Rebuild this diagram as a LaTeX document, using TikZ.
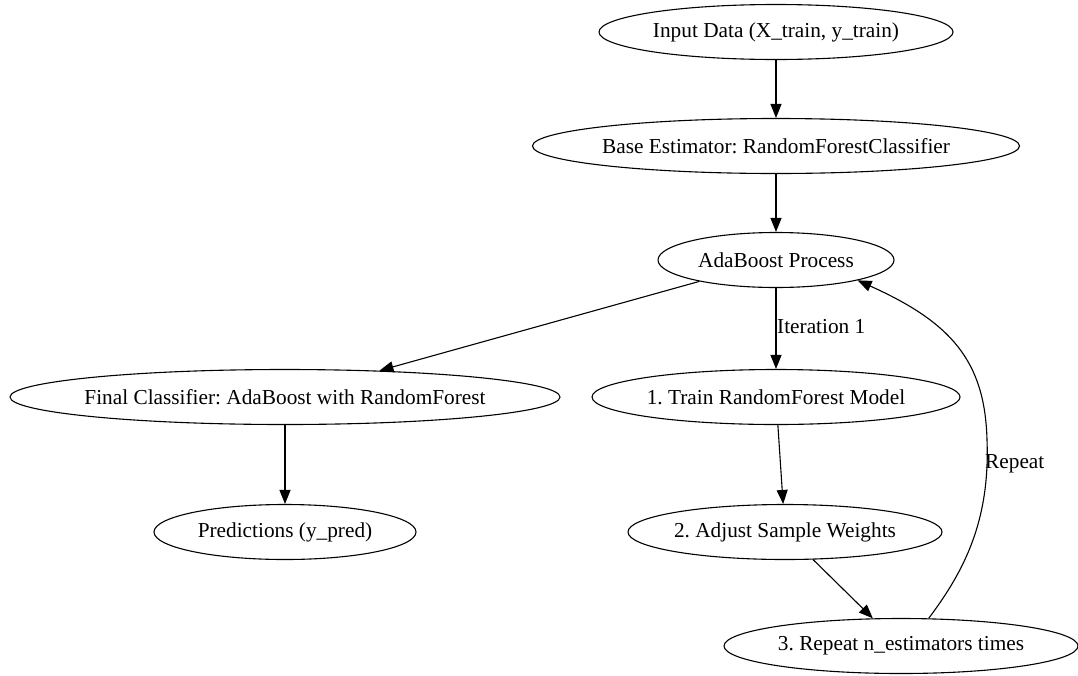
\documentclass[tikz,border=0pt]{standalone}
\usepackage{fontspec}
\setmainfont{Liberation Serif}
\usetikzlibrary{arrows.meta,shapes.geometric}
\newcommand{\ztext}[1]{\makebox[0pt][c]{#1}}
\begin{document}
\frenchspacing
\begin{tikzpicture}[x=1pt,y=-1pt,
  nd/.style={draw, ellipse, line width=1.1pt, inner sep=0pt, minimum height=55pt, font=\fontsize{21.3}{24}\selectfont},
  ar/.style={-{Triangle[length=14pt,width=11pt]}, line width=1.1pt},
  lb/.style={font=\fontsize{21.3}{24}\selectfont, inner sep=0pt}]
\useasboundingbox (0,0) rectangle (1078,675);
\node[nd, minimum width=354pt] (in) at (776,32) {\ztext{Input Data (X\_train, y\_train)}};
\node[nd, minimum width=487pt] (base) at (776,146) {\ztext{Base Estimator: RandomForestClassifier}};
\node[nd, minimum width=236pt] (ada) at (776,260) {\ztext{AdaBoost Process}};
\node[nd, minimum width=550pt] (final) at (285,397) {\ztext{Final Classifier: AdaBoost with RandomForest}};
\node[nd, minimum width=368pt] (train) at (776,397) {\ztext{1. Train RandomForest Model}};
\node[nd, minimum width=262pt] (pred) at (285,532) {\ztext{Predictions (y\_pred)}};
\node[nd, minimum width=314pt] (adj) at (785,532) {\ztext{2. Adjust Sample Weights}};
\node[nd, minimum width=354pt] (rep) at (901,646) {\ztext{3. Repeat n\_estimators times}};
\draw[ar] (in) -- (base);
\draw[ar] (base) -- (ada);
\draw[ar] (ada) -- (final);
\draw[ar] (ada) -- (train);
\node[lb, anchor=west] (l1) at (777,327) {Iteration 1};
\draw[ar] (final) -- (pred);
\draw[ar] (train) -- (adj);
\draw[ar] (adj) -- (rep);
\coordinate (m) at (987,440);
\draw[ar] (rep.45) .. controls (965,570) and (990,520) .. (m) .. controls (985,360) and (950,322) .. (ada.-14);
\node[lb, anchor=west] (l2) at (985,464) {Repeat};
\end{tikzpicture}
\end{document}
